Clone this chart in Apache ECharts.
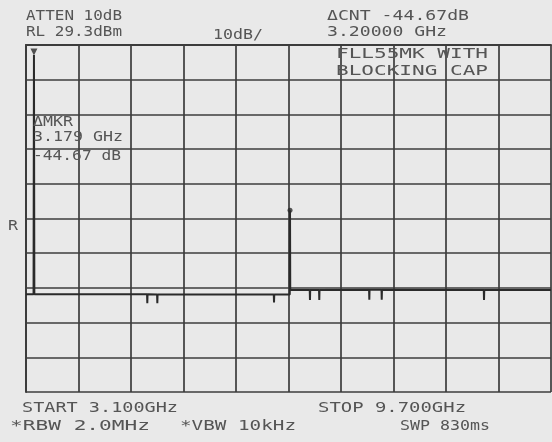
<!DOCTYPE html>
<html>
<head>
<meta charset="utf-8">
<script src="https://cdn.jsdelivr.net/npm/echarts@6/dist/echarts.min.js"></script>
<style>
html,body{margin:0;padding:0;background:#e9e9e9;}
#chart{width:552px;height:442px;}
</style>
</head>
<body>
<div id="chart"></div>
<script>
// Sweep settings
const startGHz = 3.1;
const stopGHz = 9.7;
const divisionsX = 10;
const refLevelDb = 0;      // top of screen (RL), values are dB relative to RL
const dbPerDiv = 10;
const divisionsY = 10;

// Trace (frequency in GHz, level in dB relative to RL)
const traceFreqGHz = [3.100, 3.195, 3.200, 3.205, 4.622, 4.625, 4.628, 4.748, 4.751, 4.754,
  6.215, 6.218, 6.221, 6.416, 6.419, 6.422, 6.667, 6.670, 6.673, 6.784, 6.787, 6.790,
  7.413, 7.416, 7.419, 7.569, 7.572, 7.575, 8.855, 8.858, 8.861, 9.700];
const traceLevelDb = [-71.8, -71.8, -2.9, -71.8, -71.8, -74.4, -71.8, -71.9, -74.4, -71.9,
  -71.9, -74.2, -71.9, -71.9, -47.6, -70.6, -70.6, -73.5, -70.6, -70.6, -73.5, -70.6,
  -70.5, -73.4, -70.5, -70.5, -73.4, -70.5, -70.6, -73.5, -70.6, -70.6];

// Markers
const markerFreqGHz = [3.200, 6.419];
const markerLevelDb = [-2.9, -47.6];

// Annotation texts
const headerLeft = ['ATTEN 10dB', 'RL 29.3dBm'];
const scaleText = '10dB/';
const headerRight = ['\u0394CNT -44.67dB', '3.20000 GHz'];
const noteText = ['FLL55MK WITH', 'BLOCKING CAP'];
const markerText = ['\u0394MKR', '3.179 GHz', '-44.67 dB'];
const footerTexts = ['START 3.100GHz', 'STOP 9.700GHz', '*RBW 2.0MHz', '*VBW 10kHz', 'SWP 830ms'];

const spanMHz = (stopGHz - startGHz) * 1000;
const toX = f => Math.round((f - startGHz) * 1000 * 10) / 10;

const traceData = traceFreqGHz.map((f, i) => [toX(f), traceLevelDb[i]]);

const ink = '#3c3c3c';
const txt = '#555555';
const FS = 14;
const FONT = FS + 'px "DejaVu Sans Mono"';

// x, y = left / middle; w = wanted total width of the string
function label(text, x, y, w) {
  const natural = text.length * 0.602 * FS;
  return {
    type: 'text', x: x, y: y, scaleX: w / natural, z: 100,
    style: { text: text, font: FONT, fill: txt, verticalAlign: 'middle', align: 'left' }
  };
}

const chart = echarts.init(document.getElementById('chart'), null, {renderer: 'canvas'});
chart.setOption({
  backgroundColor: '#e9e9e9',
  animation: false,
  grid: { left: 26, top: 45, width: 525, height: 347, containLabel: false },
  xAxis: {
    type: 'value', min: 0, max: spanMHz, interval: spanMHz / divisionsX,
    axisLabel: { show: false }, axisTick: { show: false },
    axisLine: { show: true, lineStyle: { color: ink, width: 2 } },
    splitLine: { show: true, lineStyle: { color: ink, width: 1.7 } }
  },
  yAxis: {
    type: 'value', min: refLevelDb - dbPerDiv * divisionsY, max: refLevelDb, interval: dbPerDiv,
    axisLabel: { show: false }, axisTick: { show: false },
    axisLine: { show: true, lineStyle: { color: ink, width: 2 } },
    splitLine: { show: true, lineStyle: { color: ink, width: 1.7 } }
  },
  series: [
    {
      type: 'line', data: traceData, showSymbol: false, symbol: 'none',
      lineStyle: { color: '#2a2a2a', width: 2 }, z: 5
    },
    {
      type: 'scatter', z: 6,
      data: [
        { value: [toX(markerFreqGHz[0]), markerLevelDb[0]], symbol: 'triangle', symbolRotate: 180, symbolSize: [7, 7], symbolOffset: [0, -3] },
        { value: [toX(markerFreqGHz[1]), markerLevelDb[1]], symbol: 'circle', symbolSize: 5 }
      ],
      itemStyle: { color: '#2a2a2a' }
    }
  ],
  graphic: [
    label(headerLeft[0], 26, 16, 96),
    label(headerLeft[1], 26, 32, 96),
    label(scaleText, 213, 35, 50),
    label(headerRight[0], 327, 16, 142),
    label(headerRight[1], 327, 32, 120),
    label(noteText[0], 336, 54, 152),
    label(noteText[1], 336, 71, 152),
    label(markerText[0], 33, 122, 40),
    label(markerText[1], 33, 137, 90),
    label(markerText[2], 33, 156, 88),
    label('R', 8, 226, 10),
    label(footerTexts[0], 22, 408, 156),
    label(footerTexts[1], 318, 408, 148),
    label(footerTexts[2], 10, 426, 140),
    label(footerTexts[3], 180, 426, 116),
    label(footerTexts[4], 400, 426, 90)
  ]
});
</script>
</body>
</html>
